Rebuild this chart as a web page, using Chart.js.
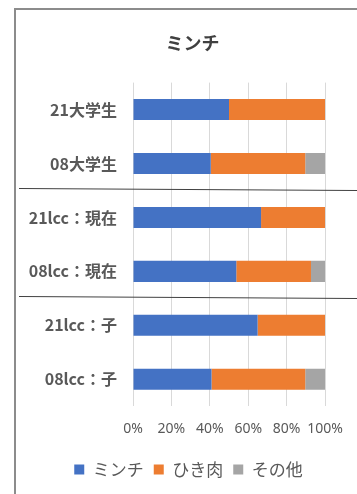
<!DOCTYPE html>
<html><head><meta charset="utf-8">
<script src="https://cdn.jsdelivr.net/npm/chart.js@4/dist/chart.umd.min.js"></script>
<style>
html,body{margin:0;padding:0;background:#fff;overflow:hidden;}
#wrap{position:relative;width:357px;height:494px;}
#frame{position:absolute;left:14px;top:8px;width:400px;height:520px;border-left:2px solid #8c8c8c;border-top:2px solid #8c8c8c;}
canvas{position:absolute;left:0;top:0;}
</style></head>
<body><div id="wrap"><div id="frame"></div><canvas id="c" width="357" height="494"></canvas></div>
<script>
const categories = ["21大学生","08大学生","21lcc：現在","08lcc：現在","21lcc：子","08lcc：子"];
const seriesNames = ["ミンチ","ひき肉","その他"];
const minchi   = [50.0, 40.5, 66.7, 53.8, 64.9, 40.9];
const hikiniku = [50.0, 49.2, 33.3, 38.9, 35.1, 48.8];
const sonota   = [0.0, 10.3, 0.0, 7.3, 0.0, 10.3];
const xTicks = [0,20,40,60,80,100];
const groupSeparators = [1.5, 3.5];

const sepPlugin = {
  id:'sep',
  afterLayout(chart){
    const shiftT = 30, shiftL = 26;
    if (chart.titleBlock){ chart.titleBlock.left += shiftT; chart.titleBlock.right += shiftT; }
    if (chart.legend){ chart.legend.left += shiftL; chart.legend.right += shiftL; }
  },
  afterDraw(chart){
    const ctx = chart.ctx, y = chart.scales.y;
    ctx.save();
    ctx.strokeStyle = '#404040';
    ctx.lineWidth = 1;
    groupSeparators.forEach(v=>{
      const py = Math.round(y.getPixelForValue(v)) - 0.5;
      ctx.beginPath();
      ctx.moveTo(19, py - 1);
      ctx.lineTo(357, py + 1);
      ctx.stroke();
    });
    ctx.restore();
  }
};

new Chart(document.getElementById('c'), {
  type:'bar',
  data:{
    labels: categories,
    datasets:[
      {label:seriesNames[0], data:minchi, backgroundColor:'#4472C4'},
      {label:seriesNames[1], data:hikiniku, backgroundColor:'#ED7D31'},
      {label:seriesNames[2], data:sonota, backgroundColor:'#A5A5A5'}
    ]
  },
  options:{
    indexAxis:'y',
    responsive:false,
    animation:false,
    devicePixelRatio:1,
    datasets:{bar:{barPercentage:0.78, categoryPercentage:0.5}},
    layout:{padding:{left:0,right:32,top:0,bottom:6}},
    plugins:{
      title:{display:true,text:'ミンチ',color:'#404040',
        font:{family:'"Noto Sans CJK JP"',size:18,weight:'bold'},
        padding:{top:32,bottom:29}},
      legend:{position:'bottom',
        labels:{boxWidth:10,boxHeight:10,color:'#595959',padding:10,
          font:{family:'"Noto Sans CJK JP"',size:17}}},
      tooltip:{enabled:false}
    },
    scales:{
      x:{stacked:true,min:0,max:100,
        afterBuildTicks(s){ s.ticks = xTicks.map(v=>({value:v})); },
        grid:{color:'#d9d9d9',drawTicks:false},
        border:{display:false},
        ticks:{padding:14,color:'#595959',callback:v=>v+'%',
          maxRotation:0,minRotation:0,autoSkip:false,
          font:{family:'"Noto Sans", sans-serif',size:14}}},
      y:{stacked:true,
        afterFit(s){ s.width = 133; },
        grid:{display:false},
        border:{display:false},
        ticks:{padding:8,color:'#595959',
          font:{family:'"Noto Sans CJK JP"',size:16,weight:'bold'}}}
    }
  },
  plugins:[sepPlugin]
});
</script>
</body></html>
